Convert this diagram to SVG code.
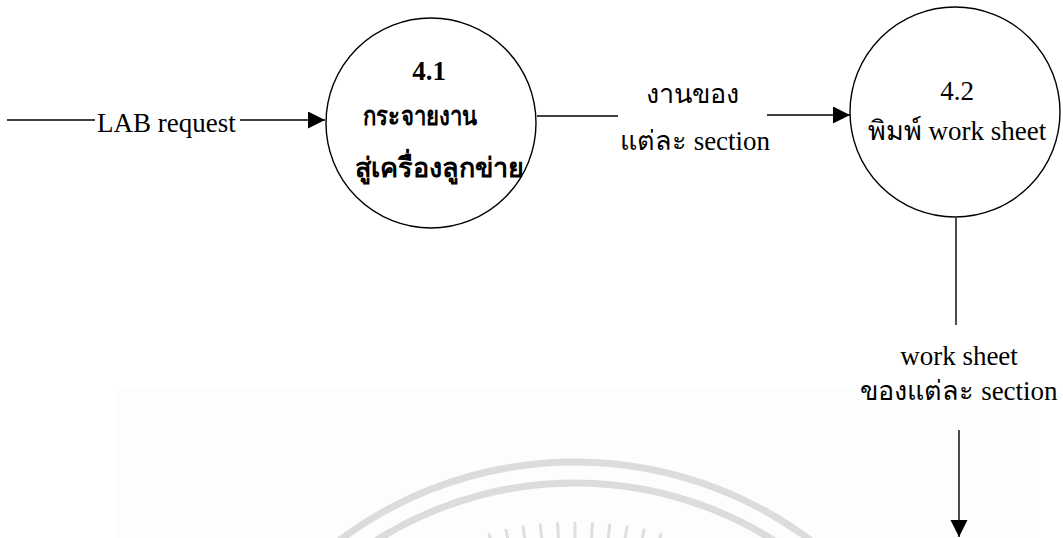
<svg xmlns="http://www.w3.org/2000/svg" width="1063" height="538" viewBox="0 0 1063 538">
  <style>
    .t { font-family: "Liberation Serif", "DejaVu Serif", serif; font-size: 27px; fill: #000; }
    .b { font-weight: bold; }
    .m { text-anchor: middle; }
    .ln { stroke: #000; stroke-width: 1.4; fill: none; }
    .node { stroke: #000; stroke-width: 1.4; fill: #fff; }
    .wm { stroke: #dcdcdc; stroke-width: 7; fill: none; }
    .ray { stroke: #dedede; stroke-width: 3; stroke-linecap: round; }
  </style>
  <defs>
    <marker id="arr" markerWidth="18" markerHeight="18" refX="17" refY="8.5" orient="auto" markerUnits="userSpaceOnUse">
      <path d="M0,0 L17,8.5 L0,17 Z" fill="#000"/>
    </marker>
  </defs>
  <rect width="1063" height="538" fill="#fff"/>
  <g id="watermark">
    <rect x="117" y="388" width="916" height="150" fill="#fdfdfd"/>
    <circle class="wm" cx="575" cy="855" r="393"/>
    <circle class="wm" cx="575" cy="855" r="372"/>
    <g transform="translate(575,855)">
      <line class="ray" x1="0" y1="-316" x2="0" y2="-332" transform="rotate(-15)"/>
      <line class="ray" x1="0" y1="-316" x2="0" y2="-332" transform="rotate(-12)"/>
      <line class="ray" x1="0" y1="-316" x2="0" y2="-332" transform="rotate(-9)"/>
      <line class="ray" x1="0" y1="-316" x2="0" y2="-332" transform="rotate(-6)"/>
      <line class="ray" x1="0" y1="-316" x2="0" y2="-332" transform="rotate(-3)"/>
      <line class="ray" x1="0" y1="-316" x2="0" y2="-332"/>
      <line class="ray" x1="0" y1="-316" x2="0" y2="-332" transform="rotate(3)"/>
      <line class="ray" x1="0" y1="-316" x2="0" y2="-332" transform="rotate(6)"/>
      <line class="ray" x1="0" y1="-316" x2="0" y2="-332" transform="rotate(9)"/>
      <line class="ray" x1="0" y1="-316" x2="0" y2="-332" transform="rotate(12)"/>
      <line class="ray" x1="0" y1="-316" x2="0" y2="-332" transform="rotate(15)"/>
    </g>
  </g>
  <g id="connectors">
    <line class="ln" x1="7" y1="120" x2="95" y2="120"/>
    <line class="ln" x1="240" y1="120" x2="325" y2="120" marker-end="url(#arr)"/>
    <text class="t" x="97" y="132">LAB request</text>
    <line class="ln" x1="537" y1="116" x2="618" y2="116"/>
    <line class="ln" x1="767" y1="115" x2="850" y2="115" marker-end="url(#arr)"/>
    <text class="t m" x="692" y="103">งานของ</text>
    <text class="t m" x="695" y="150">แต่ละ section</text>
    <line class="ln" x1="956" y1="218" x2="956" y2="325"/>
    <line class="ln" x1="959" y1="430" x2="959" y2="537" marker-end="url(#arr)"/>
    <text class="t m" x="959" y="365">work sheet</text>
    <text class="t m" x="959" y="400">ของแต่ละ section</text>
  </g>
  <g id="node-4-1">
    <circle class="node" cx="431" cy="123" r="105"/>
    <text class="t b m" x="429" y="80">4.1</text>
    <text class="t b m" x="420" y="125" textLength="114" lengthAdjust="spacingAndGlyphs">กระจายงาน</text>
    <text class="t b m" x="439" y="177">สู่เครื่องลูกข่าย</text>
  </g>
  <g id="node-4-2">
    <circle class="node" cx="955" cy="112" r="105"/>
    <text class="t m" x="957" y="100">4.2</text>
    <text class="t m" x="957" y="140">พิมพ์ work sheet</text>
  </g>
</svg>
